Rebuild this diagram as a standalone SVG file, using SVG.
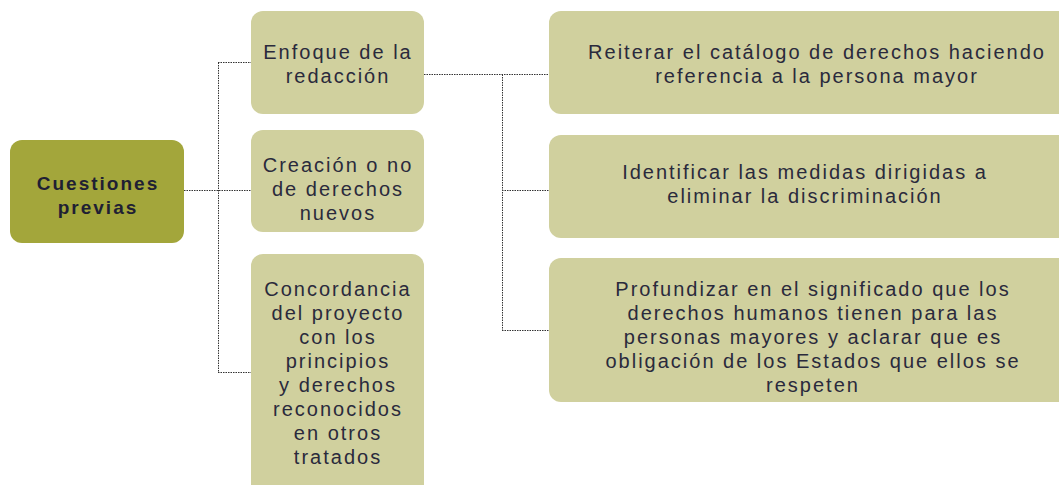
<svg xmlns="http://www.w3.org/2000/svg" width="1059" height="485" viewBox="0 0 1059 485">
<style>
.box{fill:#d0d09e;}
.main{fill:#a3a63b;}
.t{font-family:"Liberation Sans",Arial,sans-serif;font-size:20px;letter-spacing:2px;fill:#2a2a3c;text-anchor:middle;}
.b{font-weight:bold;font-size:19px;letter-spacing:2px;fill:#1f1f33;}
.c{fill:none;stroke:#333;stroke-width:1;stroke-dasharray:1.5 1;}
</style>
<rect width="1059" height="485" fill="#ffffff"/>
<g id="connectors">
<path class="c" d="M184 190.5H251M218.5 62.5V372.5M218 62.5H251M218 372.5H251"/>
<path class="c" d="M424 74.5H549M502.5 74.5V330.5M502 190.5H549M502 330.5H549"/>
</g>
<g id="n-cuestiones">
<rect class="main" x="10" y="140" width="174" height="103" rx="12"/>
<text class="t b" x="98" y="190">Cuestiones</text>
<text class="t b" x="98" y="214">previas</text>
</g>
<g id="n-enfoque">
<rect class="box" x="251" y="11" width="173" height="103" rx="12"/>
<text class="t" x="338" y="59">Enfoque de la</text>
<text class="t" x="338" y="83">redacción</text>
</g>
<g id="n-creacion">
<rect class="box" x="251" y="130" width="173" height="102" rx="12"/>
<text class="t" x="338" y="172">Creación o no</text>
<text class="t" x="338" y="196">de derechos</text>
<text class="t" x="338" y="220">nuevos</text>
</g>
<g id="n-concordancia">
<rect class="box" x="251" y="254" width="173" height="245" rx="12"/>
<text class="t" x="338" y="296">Concordancia</text>
<text class="t" x="338" y="320">del proyecto</text>
<text class="t" x="338" y="344">con los</text>
<text class="t" x="338" y="368">principios</text>
<text class="t" x="338" y="392">y derechos</text>
<text class="t" x="338" y="416">reconocidos</text>
<text class="t" x="338" y="440">en otros</text>
<text class="t" x="338" y="464">tratados</text>
</g>
<g id="n-reiterar">
<rect class="box" x="549" y="11" width="530" height="103" rx="12"/>
<text class="t" x="817" y="59">Reiterar el catálogo de derechos haciendo</text>
<text class="t" x="817" y="83">referencia a la persona mayor</text>
</g>
<g id="n-identificar">
<rect class="box" x="549" y="135" width="530" height="103" rx="12"/>
<text class="t" x="805" y="179">Identificar las medidas dirigidas a</text>
<text class="t" x="805" y="203">eliminar la discriminación</text>
</g>
<g id="n-profundizar">
<rect class="box" x="549" y="258" width="530" height="144" rx="12"/>
<text class="t" x="813" y="296">Profundizar en el significado que los</text>
<text class="t" x="813" y="320">derechos humanos tienen para las</text>
<text class="t" x="813" y="344">personas mayores y aclarar que es</text>
<text class="t" x="813" y="368">obligación de los Estados que ellos se</text>
<text class="t" x="813" y="392">respeten</text>
</g>
</svg>
